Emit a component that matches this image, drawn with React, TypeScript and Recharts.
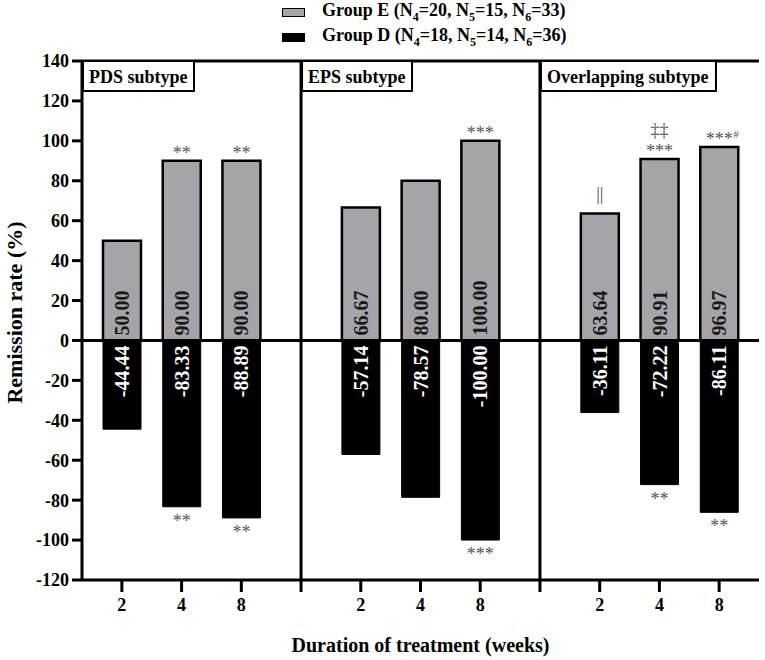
import { Bar, BarChart, LabelList, ReferenceLine, XAxis, YAxis } from "recharts";

const categories = ["PDS-2", "PDS-4", "PDS-8", "sep1", "EPS-2", "EPS-4", "EPS-8", "sep2", "OVL-2", "OVL-4", "OVL-8"];
const weekLabels = ["2", "4", "8", "", "2", "4", "8", "", "2", "4", "8"];
const groupE = [50, 90, 90, null, 66.67, 80, 100, null, 63.64, 90.91, 96.97];
const groupD = [-44.44, -83.33, -88.89, null, -57.14, -78.57, -100, null, -36.11, -72.22, -86.11];
const marksE = ["", "**", "**", "", "", "", "***", "", "||", "‡‡\n***", "***#"];
const marksD = ["", "**", "**", "", "", "", "***", "", "", "**", "**"];
const panelNames = ["PDS subtype", "EPS subtype", "Overlapping subtype"];
const yTicks = [-120, -100, -80, -60, -40, -20, 0, 20, 40, 60, 80, 100, 120, 140];
const seriesNames = ["Group E", "Group D"];
const nSubscripts = ["4", "5", "6"];
const groupN = [
  [20, 15, 33],
  [18, 14, 36],
];

const data = categories.map((c, i) => ({ cat: c, e: groupE[i], d: groupD[i] }));

const SERIF = '"Liberation Serif", "Times New Roman", serif';
const GRAY = "#a5a5a9";
const panelBoxWidths = [111, 110, 175];

const tickStyle = { fontFamily: SERIF, fontSize: 18, fontWeight: 700, fill: "#000" };

function PanelBox({ x, y, name, w }: { x: number; y: number; name: string; w: number }) {
  return (
    <g>
      <rect x={x + 1} y={y} width={w} height={30} fill="#fff" stroke="#000" strokeWidth={2} />
      <text x={x + 7} y={y + 22} fontFamily={SERIF} fontSize={18} fontWeight={700} fill="#000">
        {name}
      </text>
    </g>
  );
}

const boxLabel = (idx: number) => (props: any) => {
  const vb = props.viewBox || {};
  return <PanelBox x={vb.x} y={vb.y} name={panelNames[idx]} w={panelBoxWidths[idx]} />;
};

// LabelList is fed the category, so each label finds its own row
function valueLabel(series: (number | null)[], positive: boolean) {
  return (props: any) => {
    const { x, y, width, height, value } = props;
    const i = categories.indexOf(value);
    const v = series[i];
    if (v == null) return null;
    const cx = x + width / 2;
    const top = Math.min(y, y + height);
    const bottom = Math.max(y, y + height);
    const ty = positive ? bottom - 5 : top + 5;
    return (
      <text
        x={cx}
        y={ty}
        transform={`rotate(-90 ${cx} ${ty})`}
        textAnchor={positive ? "start" : "end"}
        dominantBaseline="central"
        fontFamily={SERIF}
        fontSize={20}
        fontWeight={700}
        fill={positive ? "#1a1a1a" : "#fff"}
      >
        {v.toFixed(2)}
      </text>
    );
  };
}

const markProps = { fontFamily: SERIF, fontSize: 18, fill: "#555", textAnchor: "middle" as const };

function markLabel(marks: string[], above: boolean) {
  return (props: any) => {
    const { x, y, width, height, value } = props;
    const m = marks[categories.indexOf(value)];
    if (!m) return null;
    const cx = x + width / 2;
    const top = Math.min(y, y + height);
    const bottom = Math.max(y, y + height);
    if (!above) {
      return (
        <text x={cx} y={bottom + 20} {...markProps}>
          {m}
        </text>
      );
    }
    if (m === "||") {
      return (
        <text x={cx} y={top - 13} {...markProps} fill="#444">
          {m}
        </text>
      );
    }
    if (m.includes("\n")) {
      const [upper, lower] = m.split("\n");
      return (
        <g>
          <text x={cx} y={top - 23} {...markProps}>
            {upper}
          </text>
          <text x={cx} y={top - 2} {...markProps}>
            {lower}
          </text>
        </g>
      );
    }
    if (m.endsWith("#")) {
      return (
        <g>
          <text x={cx} y={top - 2} {...markProps}>
            {m.slice(0, -1)}
          </text>
          <text x={cx + 14} y={top - 9} fontFamily={SERIF} fontSize={11} fill="#555">
            #
          </text>
        </g>
      );
    }
    return (
      <text x={cx} y={top - 2} {...markProps}>
        {m}
      </text>
    );
  };
}

function LegendBox() {
  const fills = [GRAY, "#000"];
  return (
    <div style={{ position: "absolute", left: 282, top: 0, fontFamily: SERIF, fontWeight: 700, fontSize: 18 }}>
      {seriesNames.map((name, i) => (
        <div key={name} style={{ display: "flex", alignItems: "center", height: 25 }}>
          <span
            style={{
              display: "inline-block",
              width: 21,
              height: 7,
              background: fills[i],
              border: "1.5px solid #000",
              marginRight: 17,
            }}
          />
          <span>
            {name} (
            {groupN[i].map((n, j) => (
              <span key={j}>
                N<sub style={{ fontSize: 12 }}>{nSubscripts[j]}</sub>={n}
                {j < groupN[i].length - 1 ? ", " : ""}
              </span>
            ))}
            )
          </span>
        </div>
      ))}
    </div>
  );
}

export default function App() {
  return (
    <div style={{ position: "absolute", left: 0, top: 0, width: 765, height: 660, background: "#fff" }}>
      <LegendBox />
      <BarChart
        width={765}
        height={660}
        data={data}
        stackOffset="sign"
        barSize={38}
        margin={{ top: 61, right: 6, left: 22, bottom: 50 }}
      >
        <XAxis
          dataKey="cat"
          interval={0}
          padding={{ left: 10, right: 10 }}
          height={30}
          tickFormatter={(_v: any, i: number) => weekLabels[i]}
          tick={tickStyle}
          tickSize={12}
          tickMargin={6}
          tickLine={{ stroke: "#000", strokeWidth: 3 }}
          axisLine={{ stroke: "#000", strokeWidth: 3 }}
          label={{
            content: (p: any) => {
              const vb = p.viewBox || {};
              return (
                <text
                  x={vb.x + vb.width / 2}
                  y={652}
                  textAnchor="middle"
                  fontFamily={SERIF}
                  fontSize={20}
                  fontWeight={700}
                  fill="#000"
                >
                  Duration of treatment (weeks)
                </text>
              );
            },
          }}
        />
        <YAxis
          width={60}
          domain={[-120, 140]}
          ticks={yTicks}
          interval={0}
          tick={tickStyle}
          tickSize={10}
          tickMargin={3}
          tickLine={{ stroke: "#000", strokeWidth: 3 }}
          axisLine={{ stroke: "#000", strokeWidth: 3 }}
          label={{
            content: (p: any) => {
              const vb = p.viewBox || {};
              const cy = vb.y + vb.height / 2 - 8;
              return (
                <text
                  x={0}
                  y={0}
                  transform={`translate(22 ${cy}) rotate(-90)`}
                  textAnchor="middle"
                  fontFamily={SERIF}
                  fontSize={22}
                  fontWeight={700}
                  fill="#000"
                >
                  Remission rate (%)
                </text>
              );
            },
          }}
        />
        <YAxis
          yAxisId="right"
          orientation="right"
          width={0}
          domain={[-120, 140]}
          tick={false}
          tickLine={false}
          axisLine={{ stroke: "#000", strokeWidth: 3 }}
        />
        <Bar dataKey="e" stackId="a" fill={GRAY} stroke="#000" strokeWidth={2.5} isAnimationActive={false}>
          <LabelList dataKey="cat" content={valueLabel(groupE, true)} />
          <LabelList dataKey="cat" content={markLabel(marksE, true)} />
        </Bar>
        <Bar dataKey="d" stackId="a" fill="#000" stroke="#000" strokeWidth={1} isAnimationActive={false}>
          <LabelList dataKey="cat" content={valueLabel(groupD, false)} />
          <LabelList dataKey="cat" content={markLabel(marksD, false)} />
        </Bar>
        <ReferenceLine y={0} stroke="#000" strokeWidth={3} />
        <ReferenceLine y={140} stroke="#000" strokeWidth={3} label={{ content: boxLabel(0) }} />
        <ReferenceLine x="sep1" stroke="#000" strokeWidth={3} label={{ content: boxLabel(1) }} />
        <ReferenceLine x="sep2" stroke="#000" strokeWidth={3} label={{ content: boxLabel(2) }} />
      </BarChart>
    </div>
  );
}
